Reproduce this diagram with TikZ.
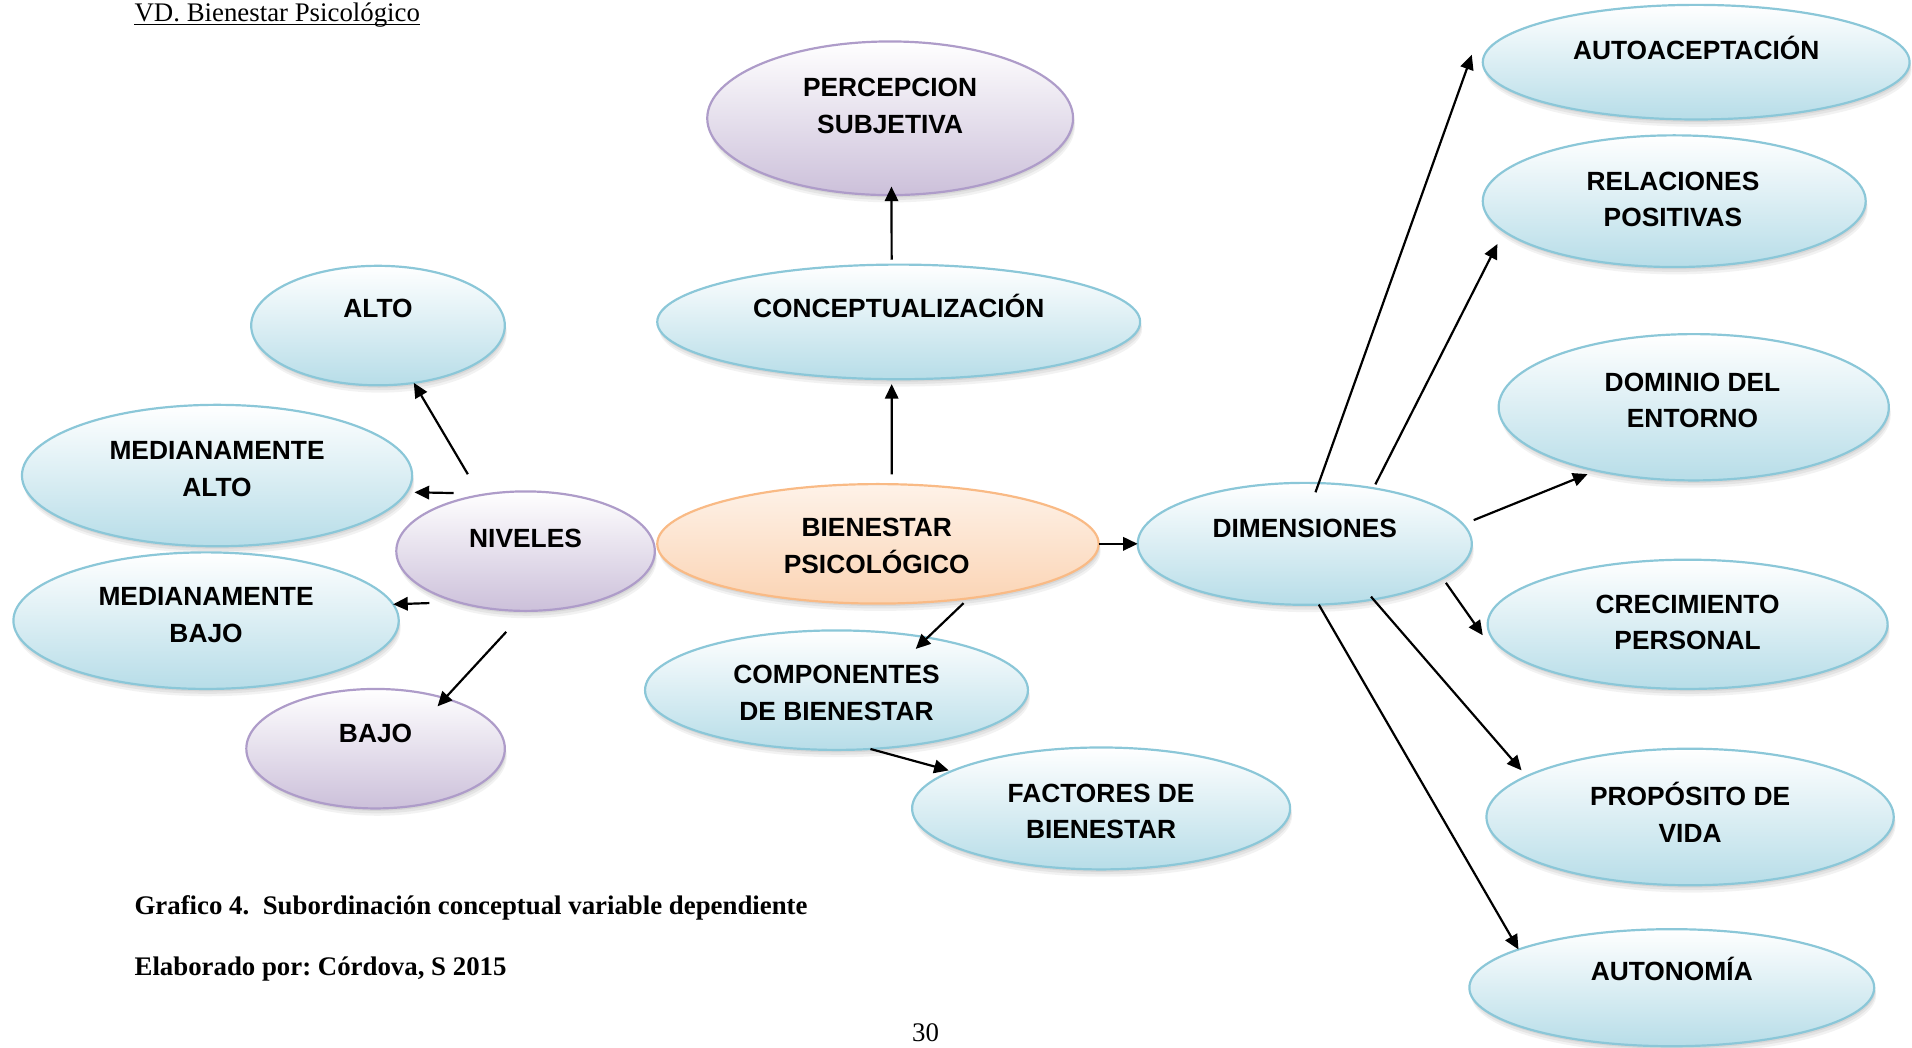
\documentclass[tikz,border=0pt]{standalone}
\usepackage{fontspec}
\setmainfont{Liberation Serif}
\newfontfamily\arialf{Liberation Sans}
\usetikzlibrary{arrows.meta,calc,shapes.geometric}

\definecolor{bluefill}{HTML}{B7DDE8}
\definecolor{blueline}{HTML}{8BC7D8}
\definecolor{purfill}{HTML}{CCC0DA}
\definecolor{purline}{HTML}{AE9CC9}
\definecolor{orfill}{HTML}{FBD4B4}
\definecolor{orline}{HTML}{F9BA85}

\begin{document}
\frenchspacing
\begin{tikzpicture}[x=0.5pt,y=-0.5pt,
  ell/.style={ellipse, inner sep=0pt, outer sep=0pt, line width=0.9pt,
    preaction={fill=black,opacity=0.06,transform canvas={xshift=0.4pt,yshift=-1pt}},
    preaction={fill=black,opacity=0.06,transform canvas={xshift=0.6pt,yshift=-2pt}},
    preaction={fill=black,opacity=0.05,transform canvas={xshift=0.8pt,yshift=-3pt}}},
  blu/.style={ell, draw=blueline, top color=white, bottom color=bluefill},
  pur/.style={ell, draw=purline, top color=white, bottom color=purfill},
  ora/.style={ell, draw=orline, top color=orfill!30, bottom color=orfill},
  sz/.style 2 args={minimum width=#1pt, minimum height=#2pt},
  lbl/.style={font=\arialf\bfseries\fontsize{10.8}{15}\selectfont, align=center, inner sep=0pt},
  oneline/.style={text height=7.73pt, text depth=0pt},
  captxt/.style={font=\fontsize{11}{13}\selectfont, inner sep=0pt},
  arr/.style={-{Triangle[length=6pt,width=5.5pt]}, line width=0.9pt, black},
]
\useasboundingbox (0,0) rectangle (1568,859.3);

% ellipses
\node[pur, sz={150}{63}] (perc) at (730,97) {};
\node[blu, sz={198}{47}] (concept) at (737,264) {};
\node[blu, sz={104}{49}] (alto) at (310,267) {};
\node[blu, sz={160}{58}] (medalto) at (178,390) {};
\node[pur, sz={106}{49}] (niveles) at (431,452) {};
\node[blu, sz={158}{56}] (medbajo) at (169,509) {};
\node[pur, sz={106}{49}] (bajo) at (308,614) {};
\node[ora, sz={181}{49}] (bien) at (720,446) {};
\node[blu, sz={157}{49}] (comp) at (686,566) {};
\node[blu, sz={155}{50}] (fact) at (903,663) {};
\node[blu, sz={137}{50}] (dim) at (1070,446) {};
\node[blu, sz={175}{47}] (auto) at (1391,51) {};
\node[blu, sz={157}{54}] (rel) at (1373,165) {};
\node[blu, sz={160}{60}] (dom) at (1389,334) {};
\node[blu, sz={164}{53}] (crec) at (1384,512) {};
\node[blu, sz={167}{56}] (prop) at (1386,670) {};
\node[blu, sz={166}{48}] (auton) at (1371,810) {};

% labels
\node[lbl] (perc-t) at (730,87) {PERCEPCION\\SUBJETIVA};
\node[lbl,oneline] (concept-t) at (737,253) {CONCEPTUALIZACIÓN};
\node[lbl,oneline] (alto-t) at (310,253) {ALTO};
\node[lbl] (medalto-t) at (178,384.5) {MEDIANAMENTE\\ALTO};
\node[lbl,oneline] (niveles-t) at (431,441) {NIVELES};
\node[lbl] (medbajo-t) at (169,504.5) {MEDIANAMENTE\\BAJO};
\node[lbl,oneline] (bajo-t) at (308,601) {BAJO};
\node[lbl] (bien-t) at (719,447.5) {BIENESTAR\\PSICOLÓGICO};
\node[lbl] (comp-t) at (686,568.5) {COMPONENTES\\DE BIENESTAR};
\node[lbl] (fact-t) at (903,665.5) {FACTORES DE\\BIENESTAR};
\node[lbl,oneline] (dim-t) at (1070,433) {DIMENSIONES};
\node[lbl,oneline] (auto-t) at (1391,41) {AUTOACEPTACIÓN};
\node[lbl] (rel-t) at (1372,163.5) {RELACIONES\\POSITIVAS};
\node[lbl] (dom-t) at (1388,328.5) {DOMINIO DEL\\ENTORNO};
\node[lbl] (crec-t) at (1384,510.5) {CRECIMIENTO\\PERSONAL};
\node[lbl] (prop-t) at (1386,666.3) {PROPÓSITO DE\\VIDA};
\node[lbl,oneline] (auton-t) at (1371,796) {AUTONOMÍA};

% free arrow ends
\coordinate (autotip) at ($(auto.west)+(-9,-6)$);
\coordinate (crectip) at ($(crec.west)+(-4,9)$);

% connectors
\draw[arr, shorten <=2pt, shorten >=-3.5pt] (concept.97.3) -- (perc.-89.6);
\draw[arr, shorten <=4pt, shorten >=2pt] (bien.77.3) -- (concept.-97.3);
\draw[arr, shorten <=10pt] (niveles.129.5) -- (alto.-58.9);
\draw[arr, shorten <=14.8pt, shorten >=3.2pt] (niveles.122.5) -- (medalto.-5.5);
\draw[arr, shorten <=11.7pt] (niveles.217.6) -- (medbajo.5.6);
\draw[arr, shorten <=11.7pt, shorten >=-4.5pt] (niveles.south) -- (bajo.36.5);
\draw[arr] (bien.east) -- (dim.west);
\draw[arr, shorten <=2.9pt, shorten >=-6.7pt] (bien.-31.1) -- (comp.30.3);
\draw[arr, shorten >=1.2pt] (comp.-60.3) -- (fact.166.1);
\draw[arr, shorten <=-4pt] (dim.77.5) -- (autotip);
\draw[arr, shorten <=1.8pt, shorten >=5.9pt] (dim.39.2) -- (rel.190.5);
\draw[arr, shorten <=4.7pt, shorten >=3.8pt] (dim.7.9) -- (dom.-147.9);
\draw[arr, shorten <=2.3pt] (dim.-14) -- (crectip);
\draw[arr, shorten <=-1.5pt, shorten >=3.2pt] (dim.-39.2) -- (prop.166.8);
\draw[arr] (dim.-77.5) -- (auton.166.1);

% page texts
\node[captxt, anchor=base west] (title) at (110,18) {VD. Bienestar Psicológico};
\draw[line width=0.5pt] ([yshift=-0.9pt]title.base west) -- ([yshift=-0.9pt]title.base east);
\node[captxt, anchor=base west] (cap1) at (110,750) {\bfseries Grafico 4.\ \ Subordinación conceptual variable dependiente};
\node[captxt, anchor=base west] (cap2) at (110,800) {\bfseries Elaborado por: Córdova, S 2015};
\node[captxt, anchor=base] (pg) at (759,854) {30};
\end{tikzpicture}
\end{document}
